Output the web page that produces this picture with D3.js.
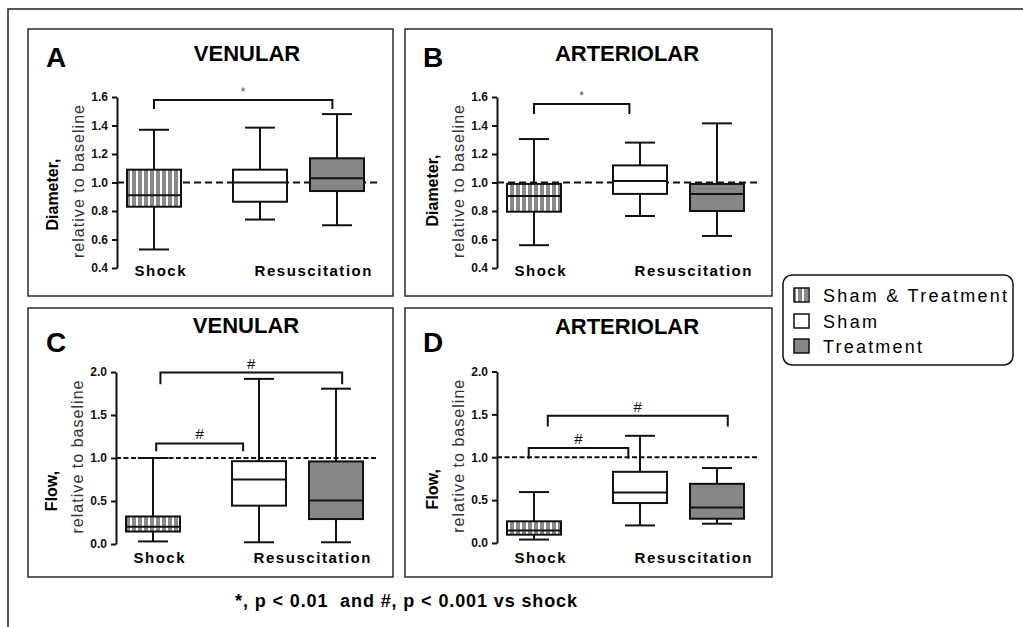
<!DOCTYPE html>
<html>
<head>
<meta charset="utf-8">
<script src="https://cdn.jsdelivr.net/npm/d3@7"></script>
<style>
  body { margin: 0; background: #fff; }
  text { font-family: "Liberation Sans", Arial, sans-serif; }
</style>
</head>
<body>
<div id="chart"></div>
<script>
var width = 1023, height = 627

// data
var series = ["Sham & Treatment", "Sham", "Treatment"]
var groups = ["Shock", "Resuscitation"]
var panelLetters = ["A", "B", "C", "D"]
var panelTitles = ["VENULAR", "ARTERIOLAR", "VENULAR", "ARTERIOLAR"]
var yTitles = ["Diameter,", "Diameter,", "Flow,", "Flow,"]
var yTitle2 = "relative to baseline"
var diameterTicks = [0.4, 0.6, 0.8, 1.0, 1.2, 1.4, 1.6]
var flowTicks = [0.0, 0.5, 1.0, 1.5, 2.0]

// [min, q1, median, q3, max] for each series
var venularDiameter = [[0.53, 0.83, 0.91, 1.09, 1.37], [0.74, 0.865, 1.0, 1.09, 1.385], [0.70, 0.94, 1.03, 1.17, 1.48]]
var arteriolarDiameter = [[0.56, 0.795, 0.905, 0.99, 1.305], [0.765, 0.92, 1.01, 1.12, 1.28], [0.625, 0.80, 0.92, 0.99, 1.415]]
var venularFlow = [[0.03, 0.145, 0.20, 0.32, 1.0], [0.02, 0.446, 0.75, 0.963, 1.92], [0.02, 0.29, 0.505, 0.96, 1.806]]
var arteriolarFlow = [[0.04, 0.097, 0.147, 0.253, 0.594], [0.205, 0.466, 0.59, 0.83, 1.25], [0.225, 0.283, 0.415, 0.69, 0.874]]

// brackets: [from slot, to slot, top value, end value, label]
var bracketsA = [[0, 1.94, 1.579, 1.516, "*"]]
var bracketsB = [[0, 0.9, 1.551, 1.481, "*"]]
var bracketsC = [[0.07, 2.08, 1.993, 1.857, "#"], [0.03, 0.85, 1.169, 1.079, "#"]]
var bracketsD = [[0.13, 2.14, 1.484, 1.359, "#"], [-0.05, 0.89, 1.107, 0.983, "#"]]

var footnote = "*, p < 0.01\u00a0 and #, p < 0.001 vs shock"

var panelData = [venularDiameter, arteriolarDiameter, venularFlow, arteriolarFlow]
var panelTicks = [diameterTicks, diameterTicks, flowTicks, flowTicks]
var panelBrackets = [bracketsA, bracketsB, bracketsC, bracketsD]

// layout of each panel
var layout = [
    {box: [28, 29, 365, 267], axisX: 117, yRange: [268, 97], dash: "7,4", shift: 12, titleY: 61, letterY: 67, catY: 276, markSize: 12},
    {box: [405, 29, 367, 267], axisX: 497, yRange: [268, 97], dash: "7,4", shift: 8, titleY: 61, letterY: 67, catY: 276, markSize: 12},
    {box: [28, 308, 365, 269], axisX: 116, yRange: [544, 372], dash: "5,2.5", shift: 33, titleY: 333, letterY: 352, catY: 563, markSize: 15},
    {box: [405, 308, 367, 269], axisX: 497, yRange: [543, 371.5], dash: "5,2.5", shift: 32, titleY: 334, letterY: 352, catY: 563, markSize: 15}
]

var fills = ["url(#stripes)", "#ffffff", "#868686"]
var boxWidth = 54, capWidth = 30

var svg = d3.select("#chart").append("svg")
    .attr("width", width)
    .attr("height", height)

// stripe pattern for Sham & Treatment
var pat = svg.append("defs").append("pattern")
    .attr("id", "stripes")
    .attr("patternUnits", "userSpaceOnUse")
    .attr("width", 6)
    .attr("height", 6)
pat.append("rect").attr("width", 6).attr("height", 6).attr("fill", "#fff")
pat.append("rect").attr("width", 4).attr("height", 6).attr("fill", "#8a8a8a")

// outer frame
svg.append("path")
    .attr("d", "M8," + height + "V9H" + width)
    .attr("fill", "none")
    .attr("stroke", "#222")
    .attr("stroke-width", 1.5)

for (var i = 0; i < 4; i++)
    drawPanel(i)

drawLegend()

svg.append("text")
    .attr("x", 235)
    .attr("y", 607)
    .attr("textLength", 342)
    .attr("lengthAdjust", "spacing")
    .style("font-size", "18px")
    .style("font-weight", "bold")
    .text(footnote)

function drawPanel(i){
    var L = layout[i], ticks = panelTicks[i], data = panelData[i]
    var g = svg.append("g")

    g.append("rect")
        .attr("x", L.box[0]).attr("y", L.box[1])
        .attr("width", L.box[2]).attr("height", L.box[3])
        .attr("fill", "#fff")
        .attr("stroke", "#2b2b2b")
        .attr("stroke-width", 1.5)

    //Set scales
    var yScale = d3.scaleLinear().domain([ticks[0], ticks[ticks.length - 1]]).range(L.yRange)
    var xScale = d3.scaleLinear().domain([0, 1, 2]).range([L.axisX + 37, L.axisX + 143, L.axisX + 220])

    //Titles
    g.append("text")
        .attr("x", L.box[0] + 18)
        .attr("y", L.letterY)
        .style("font-size", "28px")
        .style("font-weight", "bold")
        .text(panelLetters[i])

    g.append("text")
        .attr("x", L.axisX + 130)
        .attr("y", L.titleY)
        .attr("text-anchor", "middle")
        .style("font-size", "22px")
        .style("font-weight", "bold")
        .text(panelTitles[i])

    //Axis
    var mid = (L.yRange[0] + L.yRange[1]) / 2
    var axis = g.append("g")
        .attr("transform", "translate(" + L.axisX + ",0)")
        .call(d3.axisLeft(yScale).tickValues(ticks).tickFormat(d3.format(".1f")).tickSize(5).tickSizeOuter(0).tickPadding(4))
    axis.select(".domain").attr("stroke", "#111").attr("stroke-width", 2)
    axis.selectAll(".tick line").attr("stroke", "#111").attr("stroke-width", 2)
    axis.selectAll(".tick text")
        .attr("fill", "#111")
        .style("font-size", "12px")
        .style("font-weight", "bold")
        .style("font-family", "'Liberation Sans', Arial, sans-serif")

    g.append("text")
        .attr("transform", "translate(" + (L.axisX - 59) + "," + (mid + L.shift) + ") rotate(-90)")
        .attr("text-anchor", "middle")
        .style("font-size", "16px")
        .style("font-weight", "bold")
        .text(yTitles[i])

    g.append("text")
        .attr("transform", "translate(" + (L.axisX - 33) + "," + (mid - 1) + ") rotate(-90)")
        .attr("text-anchor", "middle")
        .attr("textLength", 153)
        .attr("lengthAdjust", "spacing")
        .attr("fill", "#333")
        .style("font-size", "16px")
        .text(yTitle2)

    //Group labels
    var catX = [L.axisX + 43, L.axisX + 196], catLen = [51, 117]
    g.selectAll(".cat")
        .data(groups)
        .enter().append("text")
        .attr("x", (d, k) => catX[k])
        .attr("y", L.catY)
        .attr("text-anchor", "middle")
        .attr("textLength", (d, k) => catLen[k])
        .attr("lengthAdjust", "spacing")
        .style("font-size", "15px")
        .style("font-weight", "bold")
        .text(d => d)

    //Baseline
    g.append("line")
        .attr("x1", L.axisX).attr("x2", L.axisX + 260)
        .attr("y1", yScale(1)).attr("y2", yScale(1))
        .attr("stroke", "#111")
        .attr("stroke-width", 2)
        .attr("stroke-dasharray", L.dash)

    //Boxes
    var b = g.selectAll(".box")
        .data(data)
        .enter().append("g")

    b.append("line")
        .attr("x1", (d, k) => xScale(k)).attr("x2", (d, k) => xScale(k))
        .attr("y1", d => yScale(d[0])).attr("y2", d => yScale(d[4]))
        .attr("stroke", "#111").attr("stroke-width", 2)

    b.selectAll(".cap")
        .data((d, k) => [[k, d[0]], [k, d[4]]])
        .enter().append("line")
        .attr("x1", d => xScale(d[0]) - capWidth / 2).attr("x2", d => xScale(d[0]) + capWidth / 2)
        .attr("y1", d => yScale(d[1])).attr("y2", d => yScale(d[1]))
        .attr("stroke", "#111").attr("stroke-width", 2)

    b.append("rect")
        .attr("x", (d, k) => xScale(k) - boxWidth / 2)
        .attr("y", d => yScale(d[3]))
        .attr("width", boxWidth)
        .attr("height", d => yScale(d[1]) - yScale(d[3]))
        .attr("fill", (d, k) => fills[k])
        .attr("stroke", "#111").attr("stroke-width", 2)

    b.append("line")
        .attr("x1", (d, k) => xScale(k) - boxWidth / 2).attr("x2", (d, k) => xScale(k) + boxWidth / 2)
        .attr("y1", d => yScale(d[2])).attr("y2", d => yScale(d[2]))
        .attr("stroke", "#111").attr("stroke-width", 2)

    //Significance brackets
    var br = g.selectAll(".bracket")
        .data(panelBrackets[i])
        .enter().append("g")

    br.append("path")
        .attr("d", d => "M" + xScale(d[0]) + "," + yScale(d[3]) + "V" + yScale(d[2]) + "H" + xScale(d[1]) + "V" + yScale(d[3]))
        .attr("fill", "none")
        .attr("stroke", "#111").attr("stroke-width", 2)

    br.append("text")
        .attr("x", d => (xScale(d[0]) + xScale(d[1])) / 2)
        .attr("y", d => yScale(d[2]) - 4)
        .attr("text-anchor", "middle")
        .attr("fill", d => d[4] == "*" ? "#555" : "#111")
        .style("font-size", L.markSize + "px")
        .text(d => d[4])
}

function drawLegend(){
    var g = svg.append("g")
    g.append("rect")
        .attr("x", 783).attr("y", 275)
        .attr("width", 230).attr("height", 90)
        .attr("rx", 9)
        .attr("fill", "#fff")
        .attr("stroke", "#111").attr("stroke-width", 1.5)

    var rowY = [302, 328, 353], lens = [184, 54, 99]
    var item = g.selectAll(".item")
        .data(series)
        .enter().append("g")

    item.append("rect")
        .attr("x", 794)
        .attr("y", (d, k) => rowY[k] - 14)
        .attr("width", 15).attr("height", 14)
        .attr("fill", (d, k) => fills[k])
        .attr("stroke", "#111").attr("stroke-width", 1.5)

    item.append("text")
        .attr("x", 823)
        .attr("y", (d, k) => rowY[k])
        .attr("textLength", (d, k) => lens[k])
        .attr("lengthAdjust", "spacing")
        .style("font-size", "18px")
        .text(d => d)
}
</script>
</body>
</html>
